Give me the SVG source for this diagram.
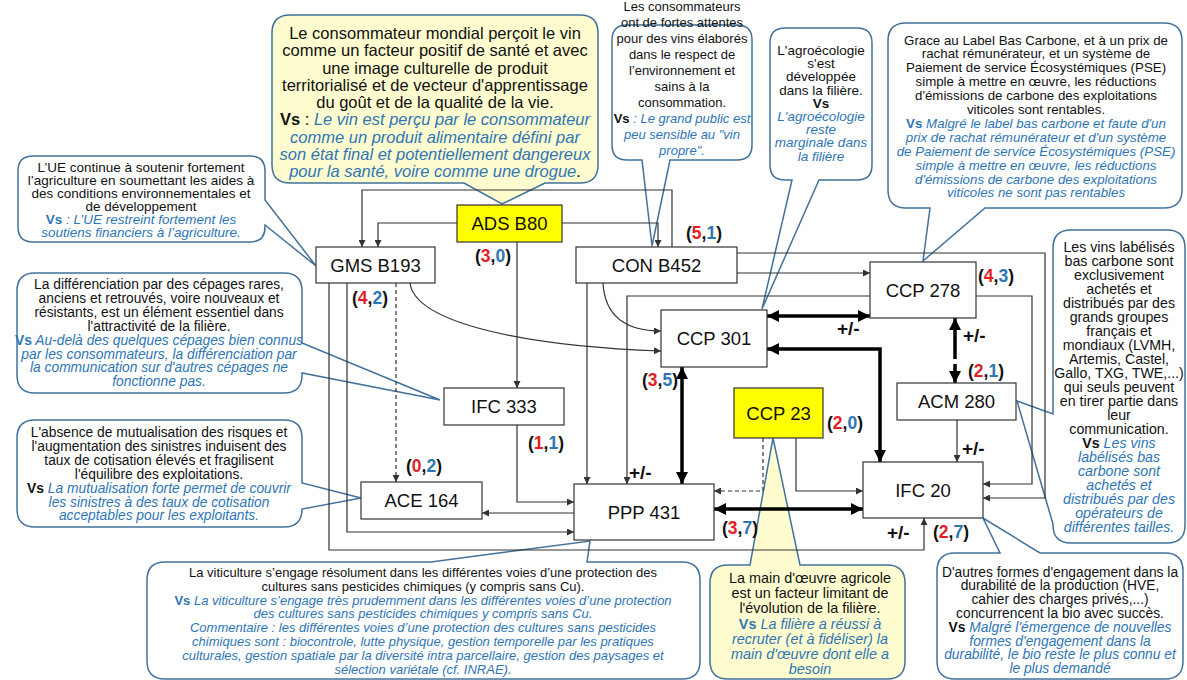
<svg xmlns="http://www.w3.org/2000/svg" width="1187" height="680" viewBox="0 0 1187 680">
<defs>
<style>
text{font-family:'Liberation Sans',Arial,sans-serif}
.co{fill:#fff;stroke:#41719c;stroke-width:1.5}
.coy{fill:#fffccf;stroke:#41719c;stroke-width:1.5}
.ct text{text-anchor:middle;fill:#111}
.ct .b{fill:#2e75b6;font-style:italic}
.ct .vsb{fill:#2e75b6;font-weight:bold;font-style:normal}
.ct .vsk{fill:#111;font-weight:bold;font-style:normal}
.nd{fill:#fff;stroke:#333;stroke-width:1.2}
.ndy{fill:#ffff00;stroke:#333;stroke-width:1.2}
.nt{font-size:18.5px;text-anchor:middle;fill:#111}
.ln{fill:none;stroke:#333;stroke-width:1.2}
.dl{stroke-dasharray:4 3}
.tk{fill:none;stroke:#000;stroke-width:3.5}
.tkd{stroke-dasharray:7 5}
.lb{font-size:17.5px;font-weight:bold;fill:#111}
.lb .r{fill:#e31e24}
.lb .u{fill:#2e75b6}
.pm{font-size:19px;font-weight:bold;fill:#111}
</style>
<marker id="a" viewBox="0 0 10 10" refX="10" refY="5" markerWidth="8" markerHeight="7" markerUnits="userSpaceOnUse" orient="auto-start-reverse"><path d="M0,0 L10,5 L0,10 z" fill="#333"/></marker>
<marker id="A" viewBox="0 0 10 10" refX="10" refY="5" markerWidth="13" markerHeight="12" markerUnits="userSpaceOnUse" orient="auto-start-reverse"><path d="M0,0 L10,5 L0,10 z" fill="#000"/></marker>
</defs>
<rect width="1187" height="680" fill="#fff"/>

<g id="callouts">
<g id="callout-ue" class="ct" font-size="13.5">
<path class="co" d="M33,156 H250 Q265,156 265,171 V200 L316,266 L265,225 V227 Q265,242 250,242 H33 Q18,242 18,227 V171 Q18,156 33,156 Z"/>
<text x="141" y="172">L’UE continue à soutenir fortement</text>
<text x="141" y="185">l’agriculture en soumettant les aides à</text>
<text x="141" y="198">des conditions environnementales et</text>
<text x="141" y="211">de développement</text>
<text x="141" y="224"><tspan class="vsb">Vs</tspan><tspan class="b"> : L’UE restreint fortement les</tspan></text>
<text x="141" y="237" class="b">soutiens financiers à l’agriculture.</text>
</g>
<g id="callout-consommateur" class="ct" font-size="16.5">
<path class="coy" d="M290,15 H580 Q598,15 598,33 V165 Q598,183 580,183 H545 L502,204 L464,183 H290 Q272,183 272,165 V33 Q272,15 290,15 Z"/>
<text x="435" y="39">Le consommateur mondial perçoit le vin</text>
<text x="435" y="56.3">comme un facteur positif de santé et avec</text>
<text x="435" y="73.5">une image culturelle de produit</text>
<text x="435" y="90.8">territorialisé et de vecteur d'apprentissage</text>
<text x="435" y="108">du goût et de la qualité de la vie.</text>
<text x="435" y="125.3"><tspan class="vsk">Vs</tspan> : <tspan class="b">Le vin est perçu par le consommateur</tspan></text>
<text x="435" y="142.5" class="b">comme un produit alimentaire défini par</text>
<text x="435" y="159.8" class="b">son état final et potentiellement dangereux</text>
<text x="435" y="177"><tspan class="b">pour la santé, voire comme une drogue</tspan>.</text>
</g>
<g id="callout-attentes" class="ct" font-size="13">
<path class="co" d="M627,25 H737 Q752,25 752,40 V145 Q752,160 737,160 H670 L652,246 L642,160 H627 Q612,160 612,145 V40 Q612,25 627,25 Z"/>
<text x="682" y="11">Les consommateurs</text>
<text x="682" y="27">ont de fortes attentes</text>
<text x="682" y="43">pour des vins élaborés</text>
<text x="682" y="59">dans le respect de</text>
<text x="682" y="75">l’environnement  et</text>
<text x="682" y="91">sains à la</text>
<text x="682" y="107">consommation.</text>
<text x="682" y="123"><tspan class="vsk">Vs</tspan><tspan class="b"> : Le grand public est</tspan></text>
<text x="682" y="139" class="b">peu sensible au "vin</text>
<text x="682" y="155" class="b">propre".</text>
</g>
<g id="callout-agroecologie" class="ct" font-size="13.5">
<path class="co" d="M785,28 H857 Q872,28 872,43 V165 Q872,180 857,180 H819 L762,309 L792,180 H785 Q770,180 770,165 V43 Q770,28 785,28 Z"/>
<text x="821" y="55">L'agroécologie</text>
<text x="821" y="68.2">s'est</text>
<text x="821" y="81.4">développée</text>
<text x="821" y="94.6">dans la filière.</text>
<text x="821" y="107.8" class="vsk">Vs</text>
<text x="821" y="121" class="b">L'agroécologie</text>
<text x="821" y="134.2" class="b">reste</text>
<text x="821" y="147.4" class="b">marginale dans</text>
<text x="821" y="160.6" class="b">la filière</text>
</g>
<g id="callout-carbone" class="ct" font-size="13.3">
<path class="co" d="M906,23 H1164 Q1182,23 1182,41 V190 Q1182,208 1164,208 H985 L923,261 L930,208 H906 Q888,208 888,190 V41 Q888,23 906,23 Z"/>
<text x="1036" y="44.5">Grace au Label Bas Carbone, et à un prix de</text>
<text x="1036" y="58.4">rachat rémunérateur, et un système de</text>
<text x="1036" y="72.3">Paiement de service Écosystémiques (PSE)</text>
<text x="1036" y="86.2">simple à mettre en œuvre,   les réductions</text>
<text x="1036" y="100.1">d'émissions de carbone des exploitations</text>
<text x="1036" y="114">viticoles sont rentables.</text>
<text x="1036" y="127.9"><tspan class="vsb">Vs</tspan><tspan class="b"> Malgré le label bas carbone et faute d'un</tspan></text>
<text x="1036" y="141.8" class="b">prix de rachat rémunérateur et d'un système</text>
<text x="1036" y="155.7" class="b">de Paiement de service Écosystémiques (PSE)</text>
<text x="1036" y="169.6" class="b">simple à mettre en œuvre, les réductions</text>
<text x="1036" y="183.5" class="b">d'émissions de carbone des exploitations</text>
<text x="1036" y="197.4" class="b">viticoles ne sont pas rentables</text>
</g>
<g id="callout-cepages" class="ct" font-size="13.8">
<path class="co" d="M35,273 H284 Q302,273 302,291 V343 L440,400 L302,373 V375 Q302,393 284,393 H35 Q17,393 17,375 V291 Q17,273 35,273 Z"/>
<text x="159" y="289">La différenciation par des cépages rares,</text>
<text x="159" y="302.9">anciens et retrouvés, voire nouveaux et</text>
<text x="159" y="316.8">résistants, est un élément essentiel dans</text>
<text x="159" y="330.7">l'attractivité de la filière.</text>
<text x="159" y="344.6"><tspan class="vsb">Vs</tspan><tspan class="b"> Au-delà des quelques cépages bien connus</tspan></text>
<text x="159" y="358.5" class="b">par les consommateurs, la différenciation par</text>
<text x="159" y="372.4" class="b">la communication sur d'autres cépages ne</text>
<text x="159" y="386.3" class="b">fonctionne pas.</text>
</g>
<g id="callout-mutualisation" class="ct" font-size="13.8">
<path class="co" d="M35,420 H284 Q302,420 302,438 V483 L361,498 L302,509 Q302,527 284,527 H35 Q17,527 17,509 V438 Q17,420 35,420 Z"/>
<text x="159" y="437">L'absence de mutualisation des risques et</text>
<text x="159" y="450.9">l'augmentation des sinistres induisent des</text>
<text x="159" y="464.8">taux de cotisation élevés et fragilisent</text>
<text x="159" y="478.7">l'équilibre des exploitations.</text>
<text x="159" y="492.6"><tspan class="vsk">Vs</tspan><tspan class="b"> La mutualisation forte permet de couvrir</tspan></text>
<text x="159" y="506.5" class="b">les sinistres à des taux de cotisation</text>
<text x="159" y="520.4" class="b">acceptables pour les exploitants.</text>
</g>
<g id="callout-labelises" class="ct" font-size="14.2">
<path class="co" d="M1071,230 H1167 Q1185,230 1185,248 V525 Q1185,543 1167,543 H1071 Q1053,543 1053,525 V524 L1017,401 L1053,414 V248 Q1053,230 1071,230 Z"/>
<text x="1119" y="251.5">Les vins labélisés</text>
<text x="1119" y="265.5">bas carbone sont</text>
<text x="1119" y="279.5">exclusivement</text>
<text x="1119" y="293.5">achetés et</text>
<text x="1119" y="307.5">distribués par des</text>
<text x="1119" y="321.5">grands groupes</text>
<text x="1119" y="335.5">français et</text>
<text x="1119" y="349.5">mondiaux (LVMH,</text>
<text x="1119" y="363.5">Artemis, Castel,</text>
<text x="1119" y="377.5">Gallo, TXG, TWE,...)</text>
<text x="1119" y="391.5">qui seuls peuvent</text>
<text x="1119" y="405.5">en tirer partie dans</text>
<text x="1119" y="419.5">leur</text>
<text x="1119" y="433.5">communication.</text>
<text x="1119" y="447.5"><tspan class="vsk">Vs</tspan><tspan class="b"> Les vins</tspan></text>
<text x="1119" y="461.5" class="b">labélisés bas</text>
<text x="1119" y="475.5" class="b">carbone sont</text>
<text x="1119" y="489.5" class="b">achetés et</text>
<text x="1119" y="503.5" class="b">distribués par des</text>
<text x="1119" y="517.5" class="b">opérateurs de</text>
<text x="1119" y="531.5" class="b">différentes tailles.</text>
</g>
<g id="callout-viticulture" class="ct" font-size="13">
<path class="co" d="M165,562 H431 L590,541 L587,562 H682 Q700,562 700,580 V661 Q700,679 682,679 H165 Q147,679 147,661 V580 Q147,562 165,562 Z"/>
<text x="423" y="577">La viticulture s’engage résolument dans les différentes voies d’une protection des</text>
<text x="423" y="590.8">cultures sans pesticides chimiques (y compris sans Cu).</text>
<text x="423" y="604.6"><tspan class="vsb">Vs</tspan><tspan class="b"> La viticulture s’engage très prudemment dans les différentes voies d’une protection</tspan></text>
<text x="423" y="618.4" class="b">des cultures sans pesticides chimiques y compris sans Cu.</text>
<text x="423" y="632.2" class="b">Commentaire : les différentes voies d’une protection des cultures sans pesticides</text>
<text x="423" y="646" class="b">chimiques sont : biocontrole, lutte physique, gestion temporelle par les pratiques</text>
<text x="423" y="659.8" class="b">culturales, gestion spatiale par la diversité intra parcellaire, gestion des paysages et</text>
<text x="423" y="673.6" class="b">sélection variétale (cf. INRAE).</text>
</g>
<g id="callout-main-oeuvre" class="ct" font-size="14.4">
<path class="coy" d="M728,565 H750 L773,438 L800,565 H887 Q905,565 905,583 V661 Q905,679 887,679 H728 Q710,679 710,661 V583 Q710,565 728,565 Z"/>
<text x="810" y="583">La main d'œuvre agricole</text>
<text x="810" y="598.2">est un facteur limitant de</text>
<text x="810" y="613.4">l'évolution de la filière.</text>
<text x="810" y="628.6"><tspan class="vsb">Vs</tspan><tspan class="b"> La filière a réussi à</tspan></text>
<text x="810" y="643.8" class="b">recruter (et à fidéliser) la</text>
<text x="810" y="659" class="b">main d'œuvre dont elle a</text>
<text x="810" y="674.2" class="b">besoin</text>
</g>
<g id="callout-engagement" class="ct" font-size="13.8">
<path class="co" d="M955,553 H1000 L983,518 L1040,553 H1165 Q1183,553 1183,571 V661 Q1183,679 1165,679 H955 Q937,679 937,661 V571 Q937,553 955,553 Z"/>
<text x="1060" y="576.5">D'autres formes d'engagement dans la</text>
<text x="1060" y="590.3">durabilité de la production (HVE,</text>
<text x="1060" y="604.1">cahier des charges privés,...)</text>
<text x="1060" y="617.9">concurrencent la bio avec succès.</text>
<text x="1060" y="631.7"><tspan class="vsk">Vs</tspan><tspan class="b"> Malgré l'émergence de nouvelles</tspan></text>
<text x="1060" y="645.5" class="b">formes d'engagement dans la</text>
<text x="1060" y="659.3" class="b">durabilité, le bio reste le plus connu et</text>
<text x="1060" y="673.1" class="b">le plus demandé</text>
</g>
</g>

<g id="connectors">
<path class="ln" marker-end="url(#a)" d="M672,247 V190 H362 V247"/>
<path class="ln" marker-end="url(#a)" d="M457,223 H378 V247"/>
<path class="ln" marker-end="url(#a)" d="M562,223 H658 V247"/>
<path class="ln" marker-end="url(#a)" d="M517,242 V388"/>
<path class="ln dl" marker-end="url(#a)" d="M396,283 V482"/>
<path class="ln" marker-end="url(#a)" d="M410,283 C415,322 520,346 661,351"/>
<path class="ln" marker-end="url(#a)" d="M347,283 V532 H574"/>
<path class="ln" marker-end="url(#a)" d="M329,283 V550 H924 V518"/>
<path class="ln" marker-end="url(#a)" d="M587,283 V484"/>
<path class="ln" marker-end="url(#a)" d="M603,283 C605,318 628,331 661,331"/>
<path class="ln" marker-end="url(#a)" d="M737,273 H870"/>
<path class="ln" marker-end="url(#a)" d="M737,253 H1045 V498 H983"/>
<path class="ln" marker-end="url(#a)" d="M870,296 H627 V484"/>
<path class="ln" marker-end="url(#a)" d="M976,296 H1032 V484 H983"/>
<path class="ln" marker-end="url(#a)" d="M957,420 V462"/>
<path class="ln" marker-end="url(#a)" d="M796,438 V491 H863"/>
<path class="ln dl" marker-end="url(#a)" d="M763,438 V491 H714"/>
<path class="ln" marker-end="url(#a)" d="M517,425 V502 H574"/>
<path class="ln" marker-end="url(#a)" d="M574,513 H482"/>
<path class="tk" marker-start="url(#A)" marker-end="url(#A)" d="M767,316 H870"/>
<path class="tk" marker-start="url(#A)" marker-end="url(#A)" d="M767,349 H880 V462"/>
<path class="tk" marker-start="url(#A)" marker-end="url(#A)" d="M682,367 V484"/>
<path class="tk" marker-start="url(#A)" d="M955,318 V352"/>
<path class="tk tkd" marker-end="url(#A)" d="M955,352 V383"/>
<path class="tk" marker-start="url(#A)" marker-end="url(#A)" d="M714,509 H863"/>
</g>

<g id="node-ads-b80"><rect class="ndy" x="457" y="205" width="105" height="37"/><text class="nt" x="509.5" y="230">ADS B80</text></g>
<g id="node-gms-b193"><rect class="nd" x="316" y="247" width="119" height="36"/><text class="nt" x="375.5" y="271.5">GMS B193</text></g>
<g id="node-con-b452"><rect class="nd" x="576" y="247" width="161" height="36"/><text class="nt" x="656.5" y="271.5">CON B452</text></g>
<g id="node-ccp-278"><rect class="nd" x="870" y="262" width="106" height="56"/><text class="nt" x="923" y="296.5">CCP 278</text></g>
<g id="node-ccp-301"><rect class="nd" x="661" y="310" width="106" height="57"/><text class="nt" x="714" y="345">CCP 301</text></g>
<g id="node-ifc-333"><rect class="nd" x="444" y="388" width="120" height="37"/><text class="nt" x="504" y="413">IFC 333</text></g>
<g id="node-ccp-23"><rect class="ndy" x="734" y="388" width="89" height="50"/><text class="nt" x="778.5" y="419.5">CCP 23</text></g>
<g id="node-acm-280"><rect class="nd" x="897" y="383" width="119" height="37"/><text class="nt" x="956.5" y="408">ACM 280</text></g>
<g id="node-ace-164"><rect class="nd" x="361" y="482" width="121" height="37"/><text class="nt" x="421.5" y="507">ACE 164</text></g>
<g id="node-ppp-431"><rect class="nd" x="574" y="484" width="140" height="56"/><text class="nt" x="644" y="518.5">PPP 431</text></g>
<g id="node-ifc-20"><rect class="nd" x="863" y="462" width="120" height="56"/><text class="nt" x="923" y="496.5">IFC 20</text></g>

<g id="labels">
<text class="lb" x="475" y="262">(<tspan class="r">3</tspan>,<tspan class="u">0</tspan>)</text>
<text class="lb" x="352" y="304">(<tspan class="r">4</tspan>,<tspan class="u">2</tspan>)</text>
<text class="lb" x="686" y="239">(<tspan class="r">5</tspan>,<tspan class="u">1</tspan>)</text>
<text class="lb" x="642" y="386">(<tspan class="r">3</tspan>,<tspan class="u">5</tspan>)</text>
<text class="lb" x="528" y="449">(<tspan class="r">1</tspan>,<tspan class="u">1</tspan>)</text>
<text class="lb" x="406" y="472">(<tspan class="r">0</tspan>,<tspan class="u">2</tspan>)</text>
<text class="lb" x="978" y="282">(<tspan class="r">4</tspan>,<tspan class="u">3</tspan>)</text>
<text class="lb" x="968" y="377">(<tspan class="r">2</tspan>,<tspan class="u">1</tspan>)</text>
<text class="lb" x="827" y="429">(<tspan class="r">2</tspan>,<tspan class="u">0</tspan>)</text>
<text class="lb" x="722" y="534">(<tspan class="r">3</tspan>,<tspan class="u">7</tspan>)</text>
<text class="lb" x="933" y="538">(<tspan class="r">2</tspan>,<tspan class="u">7</tspan>)</text>
<text class="pm" x="629" y="479">+/-</text>
<text class="pm" x="837" y="335">+/-</text>
<text class="pm" x="963" y="342">+/-</text>
<text class="pm" x="962" y="455">+/-</text>
<text class="pm" x="887" y="539">+/-</text>
</g>
</svg>
